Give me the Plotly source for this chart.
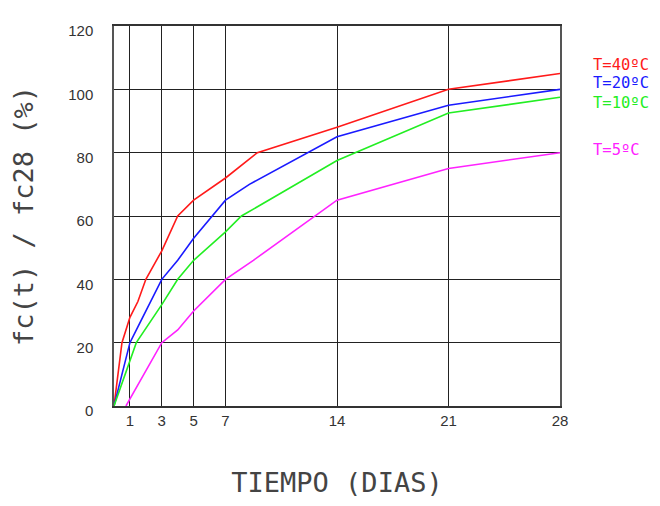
import plotly.graph_objects as go

# Data
days_40 = [0, 0.5, 1, 1.5, 2, 3, 4, 5, 7, 9, 14, 21, 28]
vals_40 = [0, 20, 28, 33, 40, 49, 60, 65, 72, 80, 88, 100, 105]

days_20 = [0, 1, 1.5, 3, 4, 5, 7, 8.5, 14, 21, 28]
vals_20 = [0, 20, 25, 40, 46, 53, 65, 70, 85, 95, 100]

days_10 = [0, 1.4, 3, 4, 5, 7, 8, 14, 21, 28]
vals_10 = [0, 20, 32, 40, 46, 55, 60, 77.5, 92.5, 97.5]

days_5 = [0.75, 3, 4, 5, 7, 8.75, 14, 21, 28]
vals_5 = [0, 20, 24, 30, 40, 46, 65, 75, 80]

series_names = ["T=40ºC", "T=20ºC", "T=10ºC", "T=5ºC"]
series_colors = ["#ff1a1a", "#1a1aff", "#22ee22", "#ff22ff"]
label_y = [107.7, 101.9, 95.7, 81]

x_ticks = [1, 3, 5, 7, 14, 21, 28]
y_ticks = [0, 20, 40, 60, 80, 100, 120]

fig = go.Figure()
for (dx, vy), name, col in zip(
    [(days_40, vals_40), (days_20, vals_20), (days_10, vals_10), (days_5, vals_5)],
    series_names, series_colors):
    fig.add_trace(go.Scatter(x=dx, y=vy, mode="lines", name=name,
                             line=dict(color=col, width=1.6), showlegend=False))

for name, col, ly in zip(series_names, series_colors, label_y):
    fig.add_annotation(x=1.07, xref="paper", y=ly, yref="y", text=name,
                       showarrow=False, xanchor="left", yanchor="middle",
                       font=dict(family="DejaVu Sans Mono", size=15.5, color=col))

fig.update_layout(
    width=644, height=490,
    margin=dict(l=106, r=92, t=18, b=92, autoexpand=False),
    paper_bgcolor="white", plot_bgcolor="white",
    showlegend=False,
)
fig.update_xaxes(
    range=[0, 28], tickvals=x_ticks, ticktext=[str(t) for t in x_ticks],
    showgrid=True, gridcolor="#222", gridwidth=1.3,
    showline=True, linecolor="#333", linewidth=1.5, mirror=True,
    zeroline=False, ticks="", ticklabelstandoff=0, automargin=False,
    tickfont=dict(family="Liberation Sans", size=15, color="#333"),
    title=dict(text="TIEMPO (DIAS)", standoff=52,
               font=dict(family="DejaVu Sans Mono", size=27, color="#444")),
)
fig.update_yaxes(
    range=[0, 120], tickvals=y_ticks,
    showgrid=True, gridcolor="#222", gridwidth=1.3,
    showline=True, linecolor="#555", linewidth=1.5, mirror=True,
    zeroline=False, ticks="", ticklabelstandoff=16, ticklabelshift=5,
    automargin=False,
    tickfont=dict(family="Liberation Sans", size=15, color="#333"),
    title=dict(text="fc(t) / fc28 (%)", standoff=27,
               font=dict(family="DejaVu Sans Mono", size=27, color="#444")),
)

fig.write_html("out.html")
